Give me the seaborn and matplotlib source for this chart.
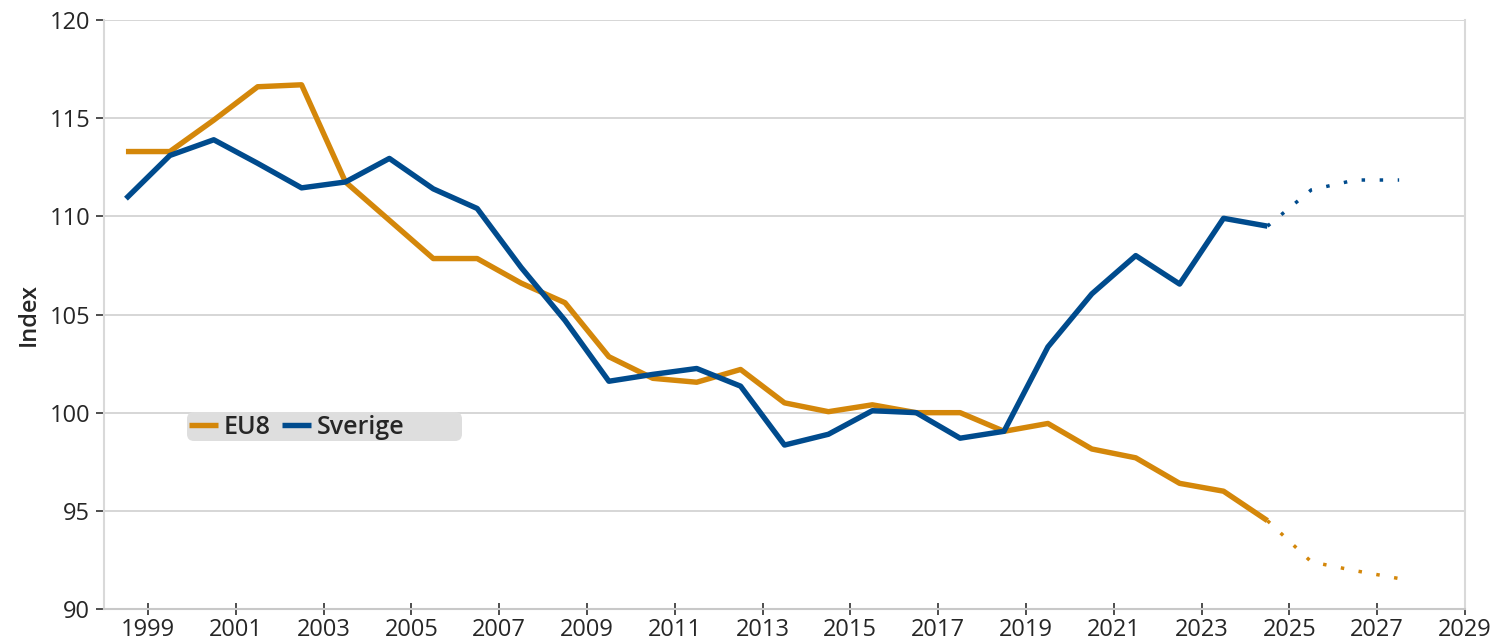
import numpy as np
import pandas as pd
import matplotlib
matplotlib.use("Agg")
import matplotlib.pyplot as plt
from matplotlib.lines import Line2D
from matplotlib.patches import FancyBboxPatch
import seaborn as sns

# ---- data ----
years = list(range(1999, 2026))
eu8 = [113.3, 113.3, 114.9, 116.6, 116.7, 111.75, 109.8, 107.85, 107.85, 106.6,
       105.6, 102.85, 101.75, 101.55, 102.2, 100.5, 100.05, 100.4, 100.0, 100.0,
       99.05, 99.45, 98.15, 97.7, 96.4, 96.0, 94.5]
sverige = [110.9, 113.1, 113.9, 112.7, 111.45, 111.75, 112.95, 111.4, 110.4, 107.4,
           104.7, 101.6, 101.95, 102.25, 101.35, 98.35, 98.9, 100.1, 100.0, 98.7,
           99.05, 103.35, 106.05, 108.0, 106.55, 109.9, 109.5]
fc_years = [2025, 2026, 2027, 2028]
eu8_fc = [94.5, 92.4, 91.95, 91.55]
sverige_fc = [109.5, 111.35, 111.85, 111.85]

series_names = ["EU8", "Sverige"]
colors = {"EU8": "#D4870A", "Sverige": "#004B8D"}
xticks = list(range(1999, 2030, 2))
yticks = [90, 95, 100, 105, 110, 115, 120]

hist = pd.DataFrame({
    "year": years * 2,
    "value": eu8 + sverige,
    "serie": ["EU8"] * len(years) + ["Sverige"] * len(years),
})
fc = pd.DataFrame({
    "year": fc_years * 2,
    "value": eu8_fc + sverige_fc,
    "serie": ["EU8"] * len(fc_years) + ["Sverige"] * len(fc_years),
})
# values are centred within each year category
hist["x"] = hist["year"] - 0.5
fc["x"] = fc["year"] - 0.5

sns.set_theme(style="white")
plt.rcParams["font.family"] = ["Open Sans", "DejaVu Sans"]

fig = plt.figure(figsize=(14.99, 6.44), dpi=100)
ax = fig.add_axes([104 / 1499, 1 - 609 / 644, (1465 - 104) / 1499, (609 - 20) / 644])

sns.lineplot(data=hist, x="x", y="value", hue="serie", hue_order=series_names,
             palette=colors, linewidth=3.9, ax=ax, legend=False)
sns.lineplot(data=fc, x="x", y="value", hue="serie", hue_order=series_names,
             palette=colors, linewidth=2.5, ax=ax, legend=False)
for line in ax.lines[len(series_names):]:
    line.set_linestyle((0, (1, 4.2)))
for line in ax.lines[:len(series_names)]:
    line.set_solid_capstyle("butt")

ax.set_xlim(1998, 2029)
ax.set_ylim(90, 120)
ax.set_xticks(xticks)
ax.set_xticklabels([str(y) for y in xticks])
ax.set_yticks(yticks)
ax.set_yticklabels([str(y) for y in yticks])
ax.yaxis.grid(True, color="#d0d0d0", linewidth=1.2)
ax.xaxis.grid(False)
ax.set_axisbelow(True)

for side in ["left", "right"]:
    ax.spines[side].set_visible(True)
    ax.spines[side].set_color("#d9d9d9")
    ax.spines[side].set_linewidth(1.5)
ax.spines["top"].set_visible(False)
ax.spines["bottom"].set_color("#c8c8c8")
ax.spines["bottom"].set_linewidth(1.5)

ax.tick_params(axis="x", direction="inout", length=9, width=1.3, color="#404040",
               labelsize=17, labelcolor="#262626", pad=2, bottom=True)
ax.tick_params(axis="y", direction="out", length=6, width=1.3, color="#404040",
               labelsize=17, labelcolor="#262626", pad=4, left=True)

ax.set_xlabel("")
ax.set_ylabel("Index", fontsize=17, color="#262626", fontweight="semibold", labelpad=6)

# legend background box
W, H = 1361, 589
box = FancyBboxPatch(((187 - 104) / W, (609 - 441) / H), (462 - 187) / W, 29 / H,
                     boxstyle=f"round,pad=0,rounding_size={7 / W}",
                     mutation_aspect=W / H, transform=ax.transAxes,
                     facecolor="#dedede", edgecolor="none", zorder=4)
ax.add_patch(box)

handles = [Line2D([0], [0], color=colors[s], linewidth=3.9, solid_capstyle="butt")
           for s in series_names]
leg = ax.legend(handles, series_names, loc="center left",
                bbox_to_anchor=((189 - 104) / W, (609 - 427) / H), ncol=2, frameon=False,
                prop={"size": 18, "weight": "semibold"}, handlelength=1.16,
                handletextpad=0.24, columnspacing=0.44, borderpad=0, borderaxespad=0)
leg.set_zorder(5)
for t in leg.get_texts():
    t.set_color("#262626")

fig.savefig("out.png", dpi=100)
